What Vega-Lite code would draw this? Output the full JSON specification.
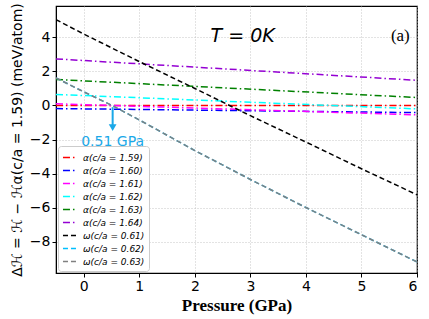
{
  "$schema": "https://vega.github.io/schema/vega-lite/v6.json",
  "width": 361,
  "height": 267,
  "autosize": {"type": "none"},
  "padding": {"left": 56, "top": 6, "right": 12, "bottom": 46},
  "background": "white",
  "config": {
    "view": {"stroke": "black", "strokeWidth": 1.2},
    "axis": {
      "labelFont": "DejaVu Sans",
      "labelFontSize": 14,
      "labelColor": "black",
      "domainColor": "black",
      "tickColor": "black",
      "tickSize": 4,
      "gridColor": "#b8b8b8",
      "gridDash": [1, 2],
      "gridWidth": 0.8
    }
  },
  "datasets": {
    "lines": [
      {"series": "α(c/a = 1.59)", "p": -0.5, "dh": 0.0},
      {"series": "α(c/a = 1.59)", "p": 6, "dh": 0.0},
      {"series": "α(c/a = 1.60)", "p": -0.5, "dh": -0.18},
      {"series": "α(c/a = 1.60)", "p": 6, "dh": -0.42},
      {"series": "α(c/a = 1.61)", "p": -0.5, "dh": 0.1},
      {"series": "α(c/a = 1.61)", "p": 6, "dh": -0.55},
      {"series": "α(c/a = 1.62)", "p": -0.5, "dh": 0.65},
      {"series": "α(c/a = 1.62)", "p": 6, "dh": -0.2},
      {"series": "α(c/a = 1.63)", "p": -0.5, "dh": 1.53},
      {"series": "α(c/a = 1.63)", "p": 6, "dh": 0.47},
      {"series": "α(c/a = 1.64)", "p": -0.5, "dh": 2.74},
      {"series": "α(c/a = 1.64)", "p": 6, "dh": 1.48},
      {"series": "ω(c/a = 0.61)", "p": -0.5, "dh": 5.05},
      {"series": "ω(c/a = 0.61)", "p": 0, "dh": 4.2},
      {"series": "ω(c/a = 0.61)", "p": 1, "dh": 2.58},
      {"series": "ω(c/a = 0.61)", "p": 2, "dh": 1.0},
      {"series": "ω(c/a = 0.61)", "p": 3, "dh": -0.6},
      {"series": "ω(c/a = 0.61)", "p": 4, "dh": -2.15},
      {"series": "ω(c/a = 0.61)", "p": 5, "dh": -3.72},
      {"series": "ω(c/a = 0.61)", "p": 6, "dh": -5.25},
      {"series": "ω(c/a = 0.62)", "p": -0.5, "dh": 1.62},
      {"series": "ω(c/a = 0.62)", "p": 0, "dh": 0.8},
      {"series": "ω(c/a = 0.62)", "p": 0.51, "dh": 0.0},
      {"series": "ω(c/a = 0.62)", "p": 1, "dh": -0.85},
      {"series": "ω(c/a = 0.62)", "p": 2, "dh": -2.65},
      {"series": "ω(c/a = 0.62)", "p": 3, "dh": -4.35},
      {"series": "ω(c/a = 0.62)", "p": 4, "dh": -6.0},
      {"series": "ω(c/a = 0.62)", "p": 5, "dh": -7.6},
      {"series": "ω(c/a = 0.62)", "p": 6, "dh": -9.2},
      {"series": "ω(c/a = 0.63)", "p": -0.5, "dh": 1.62},
      {"series": "ω(c/a = 0.63)", "p": 0, "dh": 0.8},
      {"series": "ω(c/a = 0.63)", "p": 0.51, "dh": 0.0},
      {"series": "ω(c/a = 0.63)", "p": 1, "dh": -0.85},
      {"series": "ω(c/a = 0.63)", "p": 2, "dh": -2.65},
      {"series": "ω(c/a = 0.63)", "p": 3, "dh": -4.35},
      {"series": "ω(c/a = 0.63)", "p": 4, "dh": -6.0},
      {"series": "ω(c/a = 0.63)", "p": 5, "dh": -7.6},
      {"series": "ω(c/a = 0.63)", "p": 6, "dh": -9.2}
    ]
  },
  "layer": [
    {
      "data": {"name": "lines"},
      "mark": {"type": "line", "strokeWidth": 1.5, "clip": true},
      "encoding": {
        "x": {
          "field": "p", "type": "quantitative",
          "scale": {"domain": [-0.5, 6], "nice": false, "zero": false},
          "axis": {
            "values": [0, 1, 2, 3, 4, 5, 6],
            "format": "d",
            "title": "Pressure (GPa)",
            "titleFont": "Liberation Serif",
            "titleFontWeight": "bold",
            "titleFontSize": 17,
            "titleColor": "black",
            "titlePadding": 4
          }
        },
        "y": {
          "field": "dh", "type": "quantitative",
          "scale": {"domain": [-9.85, 5.85], "nice": false, "zero": false},
          "axis": {
            "values": [-8, -6, -4, -2, 0, 2, 4],
            "format": "d",
            "labelExpr": "replace(datum.label, '-', '−')",
            "title": "Δℋ = ℋ − ℋα(c/a = 1.59)  (meV/atom)",
            "titleFont": "DejaVu Sans",
            "titleFontWeight": "normal",
            "titleFontSize": 14,
            "titleColor": "black",
            "titlePadding": 5
          }
        },
        "color": {
          "field": "series", "type": "nominal",
          "scale": {
            "domain": ["α(c/a = 1.59)", "α(c/a = 1.60)", "α(c/a = 1.61)", "α(c/a = 1.62)", "α(c/a = 1.63)", "α(c/a = 1.64)", "ω(c/a = 0.61)", "ω(c/a = 0.62)", "ω(c/a = 0.63)"],
            "range": ["#ff0000", "#0000ff", "#ff00ff", "#00ffff", "#008000", "#9400d3", "#000000", "#00bfff", "#808080"]
          },
          "legend": {
            "title": null,
            "orient": "bottom-left",
            "offset": 2,
            "symbolType": "stroke",
            "symbolSize": 170,
            "symbolStrokeWidth": 1.5,
            "labelFont": "DejaVu Sans",
            "labelFontStyle": "italic",
            "labelFontSize": 9,
            "labelColor": "black",
            "labelOffset": 6,
            "rowPadding": 0,
            "padding": 4,
            "fillColor": "white",
            "strokeColor": "#cccccc",
            "cornerRadius": 3
          }
        },
        "strokeDash": {
          "field": "series", "type": "nominal",
          "scale": {
            "domain": ["α(c/a = 1.59)", "α(c/a = 1.60)", "α(c/a = 1.61)", "α(c/a = 1.62)", "α(c/a = 1.63)", "α(c/a = 1.64)", "ω(c/a = 0.61)", "ω(c/a = 0.62)", "ω(c/a = 0.63)"],
            "range": [[7, 3, 1.5, 3], [7, 3, 1.5, 3], [7, 3, 1.5, 3], [7, 3, 1.5, 3], [7, 3, 1.5, 3], [7, 3, 1.5, 3], [5, 3], [5, 3], [5, 3]]
          },
          "legend": null
        }
      }
    },
    {
      "data": {"values": [{"p": 0.52, "y1": -0.1, "y2": -1.2}]},
      "mark": {"type": "rule", "color": "#1aa8e8", "strokeWidth": 2},
      "encoding": {
        "x": {"field": "p", "type": "quantitative"},
        "y": {"field": "y1", "type": "quantitative"},
        "y2": {"field": "y2"}
      }
    },
    {
      "data": {"values": [{"p": 0.52, "dh": -1.3}]},
      "mark": {"type": "point", "shape": "triangle-down", "filled": true, "color": "#1aa8e8", "size": 60, "opacity": 1},
      "encoding": {
        "x": {"field": "p", "type": "quantitative"},
        "y": {"field": "dh", "type": "quantitative"}
      }
    },
    {
      "data": {"values": [{"p": 0.52, "dh": -2.15, "t": "0.51 GPa"}]},
      "mark": {"type": "text", "font": "DejaVu Sans", "fontSize": 14, "color": "#1aa8e8", "align": "center", "baseline": "middle"},
      "encoding": {
        "x": {"field": "p", "type": "quantitative"},
        "y": {"field": "dh", "type": "quantitative"},
        "text": {"field": "t"}
      }
    },
    {
      "data": {"values": [{"p": 2.86, "dh": 4.1, "t": "T = 0K"}]},
      "mark": {"type": "text", "font": "DejaVu Sans", "fontStyle": "italic", "fontSize": 19, "color": "black", "align": "center", "baseline": "middle"},
      "encoding": {
        "x": {"field": "p", "type": "quantitative"},
        "y": {"field": "dh", "type": "quantitative"},
        "text": {"field": "t"}
      }
    },
    {
      "data": {"values": [{"p": 5.7, "dh": 4.1, "t": "(a)"}]},
      "mark": {"type": "text", "font": "Liberation Serif", "fontSize": 17, "color": "black", "align": "center", "baseline": "middle"},
      "encoding": {
        "x": {"field": "p", "type": "quantitative"},
        "y": {"field": "dh", "type": "quantitative"},
        "text": {"field": "t"}
      }
    }
  ]
}
